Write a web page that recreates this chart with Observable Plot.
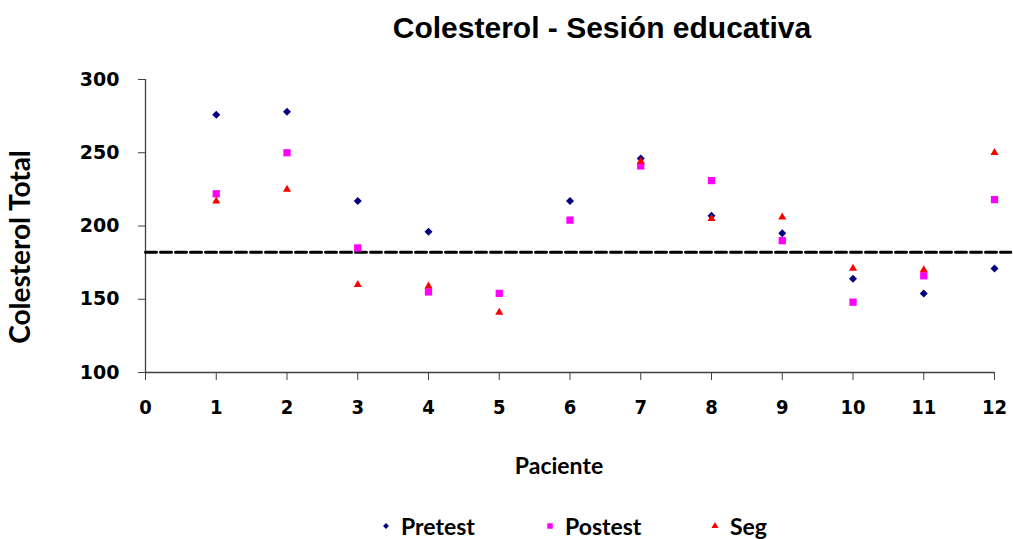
<!DOCTYPE html>
<html>
<head>
<meta charset="utf-8">
<script src="https://cdn.jsdelivr.net/npm/d3@7"></script>
<script src="https://cdn.jsdelivr.net/npm/@observablehq/plot@0.6"></script>
<style>
  html, body { margin: 0; padding: 0; background: #fff; }
  #wrap { position: relative; width: 1013px; height: 539px; overflow: hidden; }
  #title {
    height: 60px; width: 1013px; position: relative;
  }
  #title span {
    position: absolute; left: 602px; top: 28px; transform: translate(-50%, -50%);
    font-family: "Liberation Sans", Arial, sans-serif;
    font-weight: bold; font-size: 30px; color: #000; white-space: nowrap;
  }
  #legend { position: relative; height: 36px; width: 1013px; }
  .item { position: absolute; top: 0; height: 36px; display: flex; align-items: center;
    font-family: Lato, sans-serif; font-weight: bold; font-size: 23px; color: #000; }
  .item svg { margin-right: 8px; }
</style>
</head>
<body>
<div id="wrap">
  <div id="title"><span>Colesterol - Sesión educativa</span></div>
  <div id="chart"></div>
  <div id="legend"></div>
</div>
<script>
// Total cholesterol per patient at three moments of the educational session
const pacientes = [1, 2, 3, 4, 5, 6, 7, 8, 9, 10, 11, 12];
const pretest = [276, 278, 217, 196, null, 217, 246, 207, 195, 164, 154, 171];
const postest = [222, 250, 185, 155, 154, 204, 241, 231, 190, 148, 166, 218];
const seg     = [217, 225, 160, 159, 141, null, 244, 205, 206, 171, 170, 250];

const xTicks = [0, 1, 2, 3, 4, 5, 6, 7, 8, 9, 10, 11, 12];
const yTicks = [100, 150, 200, 250, 300];
const xDomain = [0, 12];
const yDomain = [100, 300];

// Reference level drawn as a dashed horizontal line
const referencia = 182;
const referenciaSpan = [0, 12.23];

const series = [
  {name: "Pretest", values: pretest, symbol: "diamond2", color: "#000080", r: 3.6},
  {name: "Postest", values: postest, symbol: "square", color: "#FF00FF", r: 4.1},
  {name: "Seg", values: seg, symbol: "triangle", color: "#FF0000", r: 3.0}
];

const rows = series.map(s =>
  pacientes.map((p, i) => ({paciente: p, valor: s.values[i]})).filter(d => d.valor != null)
);
const refRows = referenciaSpan.map(x => ({x, y: referencia}));

const tickFontY = "'DejaVu Sans', sans-serif";
const tickFontX = "'DejaVu Sans Condensed', 'DejaVu Sans', sans-serif";

const chart = Plot.plot({
  width: 1013,
  height: 448,
  marginTop: 19,
  marginLeft: 145,
  marginRight: 19,
  marginBottom: 136,
  style: {background: "transparent", overflow: "visible"},
  x: {domain: xDomain},
  y: {domain: yDomain},
  marks: [
    Plot.axisY({ticks: yTicks, tickSize: 7, tickPadding: 19, label: null, stroke: "#404040",
      fill: "#000", fontFamily: tickFontY, fontWeight: "bold", fontSize: 19}),
    Plot.axisX({ticks: xTicks, tickSize: 8, tickPadding: 19, label: null, stroke: "#404040",
      fill: "#000", fontFamily: tickFontX, fontWeight: "bold", fontSize: 20}),
    Plot.ruleX([xDomain[0]], {y1: yDomain[0], y2: yDomain[1], stroke: "#404040", strokeWidth: 1.3}),
    Plot.ruleY([yDomain[0]], {x1: xDomain[0], x2: xDomain[1], stroke: "#404040", strokeWidth: 1.3}),
    Plot.line(refRows, {x: "x", y: "y", stroke: "#000", strokeWidth: 3, strokeDasharray: "11,4", clip: false}),
    ...series.map((s, k) => Plot.dot(rows[k], {
      x: "paciente", y: "valor", symbol: () => s.symbol, fill: s.color, r: s.r, stroke: "none"
    })),
    Plot.text(["Colesterol Total"], {frameAnchor: "left", textAnchor: "middle", lineAnchor: "middle",
      dx: -124, dy: 21, rotate: -90,
      fontFamily: "Lato, sans-serif", fontWeight: "bold", fontSize: 28, fill: "#000"}),
    Plot.text(["Paciente"], {frameAnchor: "bottom", textAnchor: "middle", lineAnchor: "middle",
      dx: -11, dy: 94,
      fontFamily: "Lato, sans-serif", fontWeight: "bold", fontSize: 23, fill: "#000"})
  ]
});
document.getElementById("chart").appendChild(chart);

// Legend built from the same series definitions
const legendPos = [379, 543, 708];
const legend = d3.select("#legend");
series.forEach((s, k) => {
  const item = legend.append("div").attr("class", "item").style("left", legendPos[k] + "px");
  const svg = item.append("svg").attr("width", 14).attr("height", 14);
  const sym = {diamond2: d3.symbolDiamond2, square: d3.symbolSquare, triangle: d3.symbolTriangle}[s.symbol];
  const size = {diamond2: 22, square: 30, triangle: 22}[s.symbol];
  svg.append("path").attr("transform", "translate(7,7)")
    .attr("d", d3.symbol(sym, size)()).attr("fill", s.color);
  item.append("span").text(s.name);
});
</script>
</body>
</html>
